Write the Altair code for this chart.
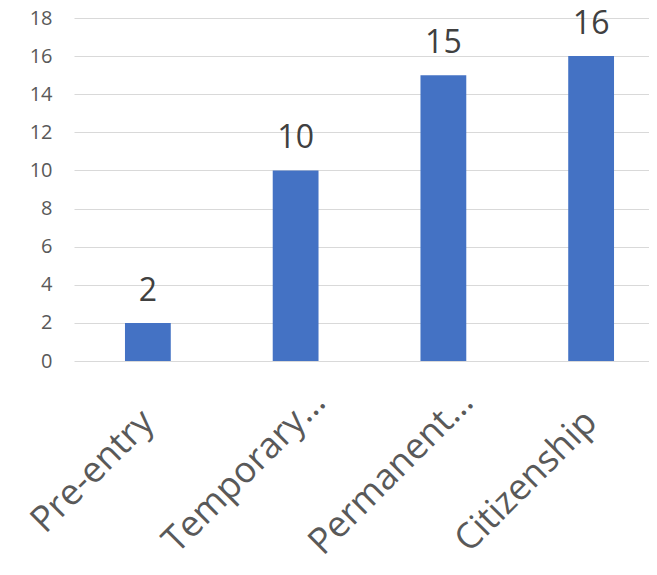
import altair as alt
import pandas as pd

categories = ["Pre-entry", "Temporary…", "Permanent…", "Citizenship"]
values = [2, 10, 15, 16]
y_ticks = [0, 2, 4, 6, 8, 10, 12, 14, 16, 18]

df = pd.DataFrame({"category": categories, "value": values})

FONT = "Open Sans"
is_cut = "indexof(datum.label, '…') >= 0"

x = alt.X(
    "category:N",
    sort=categories,
    scale=alt.Scale(range=[0, 591], paddingInner=0.69, paddingOuter=0.345),
    axis=alt.Axis(
        title=None,
        labelAngle=-45,
        labelAlign="right",
        labelBaseline="middle",
        labelFontSize=36,
        labelFont=FONT,
        labelColor="#595959",
        labelPadding={"condition": {"test": is_cut, "value": 35}, "value": 55},
        labelOffset={"condition": {"test": is_cut, "value": 24}, "value": 0},
        ticks=False,
        domain=False,
        labelLimit=400,
    ),
)
y = alt.Y(
    "value:Q",
    scale=alt.Scale(domain=[0, 18], nice=False),
    axis=alt.Axis(
        title=None,
        values=y_ticks,
        labelFontSize=20,
        labelFont=FONT,
        labelColor="#595959",
        labelPadding=22,
        ticks=False,
        domain=False,
        gridColor="#d9d9d9",
        gridWidth=1.2,
    ),
)

bars = alt.Chart(df).mark_bar(color="#4472C4").encode(x=x, y=y)
labels = alt.Chart(df).mark_text(
    dy=-22, baseline="alphabetic", fontSize=32, font=FONT, color="#404040"
).encode(x=x, y=y, text="value:Q")

chart = (
    alt.layer(bars, labels)
    .properties(
        width=575,
        height=343,
        autosize=alt.AutoSizeParams(type="none"),
        padding={"left": 66, "top": 10, "right": 0, "bottom": 206},
    )
    .configure_view(stroke=None)
)

chart.save("out.html", embed_options={"renderer": "svg", "actions": False})
